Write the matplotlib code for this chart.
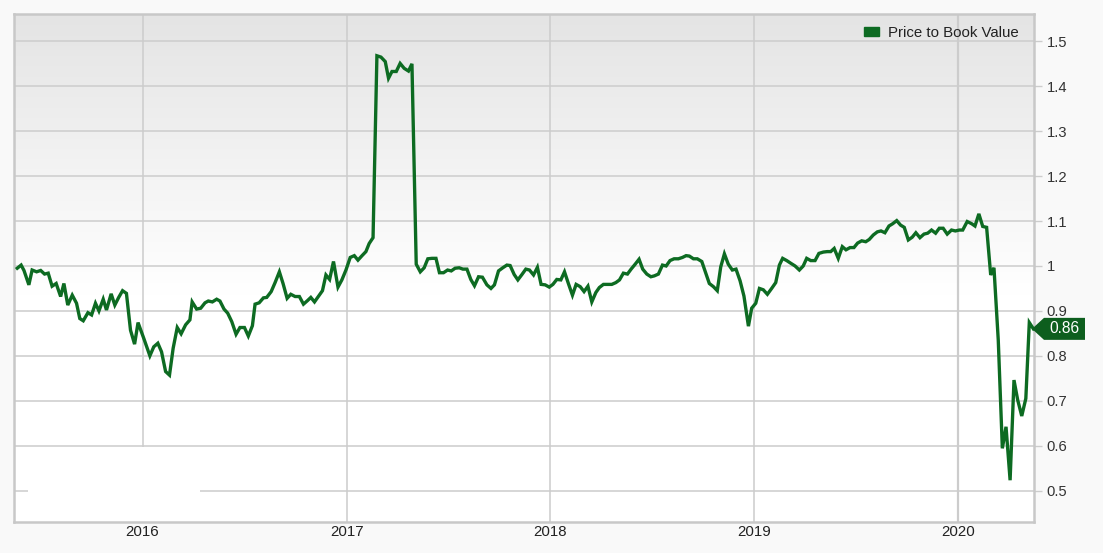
import numpy as np
import pandas as pd
import matplotlib
matplotlib.use("Agg")
import matplotlib.pyplot as plt
from matplotlib.patches import Patch, Polygon, Rectangle
from matplotlib.transforms import IdentityTransform
from matplotlib.colors import LinearSegmentedColormap

plt.rcParams['font.family'] = ['Liberation Sans', 'DejaVu Sans']

# ---- data (decimal year, price-to-book value) ----
year_frac = [
    2015.385, 2015.404, 2015.418, 2015.442, 2015.458, 2015.480, 2015.500, 2015.519,
    2015.537, 2015.556, 2015.576, 2015.598, 2015.614, 2015.633, 2015.655, 2015.676,
    2015.692, 2015.709, 2015.732, 2015.750, 2015.769, 2015.786, 2015.807, 2015.823,
    2015.846, 2015.864, 2015.883, 2015.902, 2015.921, 2015.941, 2015.961, 2015.978,
    2016.006, 2016.036, 2016.055, 2016.075, 2016.093, 2016.113, 2016.132, 2016.150,
    2016.170, 2016.189, 2016.211, 2016.232, 2016.243, 2016.265, 2016.285, 2016.306,
    2016.322, 2016.342, 2016.363, 2016.379, 2016.399, 2016.417, 2016.437, 2016.458,
    2016.477, 2016.499, 2016.518, 2016.538, 2016.551, 2016.571, 2016.592, 2016.608,
    2016.630, 2016.649, 2016.670, 2016.688, 2016.708, 2016.726, 2016.747, 2016.768,
    2016.788, 2016.808, 2016.824, 2016.842, 2016.862, 2016.881, 2016.898, 2016.916,
    2016.935, 2016.957, 2016.976, 2016.996, 2017.017, 2017.037, 2017.055, 2017.075,
    2017.094, 2017.110, 2017.129, 2017.148, 2017.168, 2017.189, 2017.205, 2017.222,
    2017.243, 2017.262, 2017.282, 2017.303, 2017.320, 2017.341, 2017.361, 2017.380,
    2017.398, 2017.418, 2017.438, 2017.455, 2017.475, 2017.495, 2017.513, 2017.532,
    2017.552, 2017.570, 2017.590, 2017.609, 2017.627, 2017.647, 2017.666, 2017.688,
    2017.708, 2017.725, 2017.745, 2017.766, 2017.786, 2017.802, 2017.822, 2017.840,
    2017.860, 2017.879, 2017.897, 2017.917, 2017.936, 2017.954, 2017.974, 2017.994,
    2018.012, 2018.031, 2018.051, 2018.069, 2018.088, 2018.108, 2018.126, 2018.146,
    2018.165, 2018.184, 2018.203, 2018.223, 2018.240, 2018.260, 2018.282, 2018.301,
    2018.321, 2018.339, 2018.358, 2018.378, 2018.396, 2018.416, 2018.435, 2018.453,
    2018.473, 2018.493, 2018.510, 2018.530, 2018.550, 2018.568, 2018.587, 2018.607,
    2018.628, 2018.648, 2018.666, 2018.682, 2018.702, 2018.721, 2018.743, 2018.762,
    2018.780, 2018.800, 2018.819, 2018.836, 2018.854, 2018.873, 2018.893, 2018.911,
    2018.931, 2018.950, 2018.972, 2018.988, 2019.008, 2019.026, 2019.045, 2019.065,
    2019.086, 2019.106, 2019.124, 2019.140, 2019.160, 2019.180, 2019.201, 2019.222,
    2019.241, 2019.258, 2019.278, 2019.299, 2019.318, 2019.340, 2019.359, 2019.376,
    2019.393, 2019.413, 2019.433, 2019.451, 2019.471, 2019.490, 2019.508, 2019.528,
    2019.548, 2019.565, 2019.585, 2019.605, 2019.623, 2019.642, 2019.662, 2019.680,
    2019.700, 2019.719, 2019.737, 2019.757, 2019.776, 2019.794, 2019.814, 2019.834,
    2019.852, 2019.871, 2019.891, 2019.909, 2019.928, 2019.948, 2019.969, 2019.988,
    2020.007, 2020.024, 2020.046, 2020.068, 2020.084, 2020.103, 2020.122, 2020.141,
    2020.161, 2020.177, 2020.198, 2020.218, 2020.236, 2020.256, 2020.275, 2020.293,
    2020.313, 2020.333, 2020.350, 2020.370,
]
pb_value = [
    0.995, 1.002, 0.990, 0.958, 0.991, 0.987, 0.990, 0.982,
    0.984, 0.955, 0.961, 0.932, 0.961, 0.913, 0.935, 0.917,
    0.883, 0.878, 0.896, 0.891, 0.917, 0.900, 0.926, 0.902,
    0.938, 0.913, 0.930, 0.945, 0.939, 0.857, 0.826, 0.874,
    0.839, 0.800, 0.820, 0.828, 0.809, 0.765, 0.757, 0.817,
    0.863, 0.849, 0.869, 0.880, 0.920, 0.904, 0.906, 0.918,
    0.922, 0.920, 0.926, 0.922, 0.904, 0.895, 0.876, 0.848,
    0.863, 0.863, 0.844, 0.867, 0.915, 0.918, 0.929, 0.930,
    0.943, 0.963, 0.987, 0.961, 0.928, 0.937, 0.932, 0.932,
    0.915, 0.923, 0.930, 0.920, 0.933, 0.945, 0.980, 0.970,
    1.010, 0.953, 0.969, 0.991, 1.019, 1.023, 1.013, 1.023,
    1.032, 1.050, 1.063, 1.468, 1.465, 1.455, 1.418, 1.433,
    1.433, 1.451, 1.440, 1.434, 1.450, 1.004, 0.987, 0.996,
    1.016, 1.017, 1.017, 0.985, 0.985, 0.991, 0.989, 0.995,
    0.996, 0.993, 0.993, 0.970, 0.956, 0.976, 0.975, 0.958,
    0.950, 0.958, 0.989, 0.996, 1.002, 1.001, 0.981, 0.969,
    0.981, 0.993, 0.991, 0.980, 0.997, 0.959, 0.958, 0.953,
    0.959, 0.970, 0.969, 0.987, 0.961, 0.935, 0.959, 0.954,
    0.943, 0.955, 0.920, 0.941, 0.952, 0.959, 0.959, 0.959,
    0.963, 0.969, 0.984, 0.982, 0.993, 1.004, 1.015, 0.993,
    0.982, 0.976, 0.978, 0.982, 1.002, 1.000, 1.012, 1.016,
    1.016, 1.019, 1.023, 1.022, 1.016, 1.016, 1.010, 0.985,
    0.961, 0.954, 0.945, 0.998, 1.027, 1.004, 0.991, 0.993,
    0.967, 0.933, 0.866, 0.906, 0.917, 0.950, 0.947, 0.937,
    0.950, 0.963, 1.002, 1.017, 1.012, 1.006, 1.000, 0.991,
    1.000, 1.017, 1.012, 1.012, 1.028, 1.031, 1.032, 1.032,
    1.039, 1.017, 1.043, 1.036, 1.041, 1.041, 1.051, 1.056,
    1.054, 1.059, 1.069, 1.076, 1.078, 1.074, 1.089, 1.094,
    1.101, 1.091, 1.086, 1.058, 1.064, 1.074, 1.063, 1.071,
    1.073, 1.080, 1.073, 1.084, 1.084, 1.071, 1.080, 1.078,
    1.080, 1.080, 1.099, 1.094, 1.089, 1.116, 1.088, 1.086,
    0.980, 0.996, 0.835, 0.594, 0.642, 0.523, 0.746, 0.702,
    0.666, 0.705, 0.874, 0.860,
]
series_name = "Price to Book Value"
year_ticks = [2016, 2017, 2018, 2019, 2020]
y_ticks = [0.5, 0.6, 0.7, 0.8, 0.9, 1.0, 1.1, 1.2, 1.3, 1.4, 1.5]
x_range = (2015.369, 2020.373)
y_range = (0.43, 1.561)


def to_dt(f):
    y = int(np.floor(f))
    a = pd.Timestamp(year=y, month=1, day=1)
    b = pd.Timestamp(year=y + 1, month=1, day=1)
    return a + (b - a) * (f - y)


dates = [to_dt(f) for f in year_frac]

LINE = '#0d6b22'
GRID = '#cccccc'

fig = plt.figure(figsize=(11.03, 5.53), dpi=100)
fig.patch.set_facecolor('#f9f9f9')
ax = fig.add_axes([14 / 1103, 1 - 522 / 553, 1020 / 1103, 508 / 553])

# gradient background
grad = np.linspace(0, 1, 256).reshape(-1, 1)
cmap = LinearSegmentedColormap.from_list('g', [(0, '#ffffff'), (0.45, '#ffffff'), (1, '#e4e4e4')])
ax.imshow(grad, extent=[0, 1, 0, 1], transform=ax.transAxes, origin='lower',
          aspect='auto', cmap=cmap, zorder=0)

ax.set_xlim(to_dt(x_range[0]), to_dt(x_range[1]))
ax.set_ylim(*y_range)

for v in y_ticks:
    ax.axhline(v, color=GRID, lw=1.1, zorder=1)
for yr in year_ticks:
    ax.axvline(pd.Timestamp(year=yr, month=1, day=1), color=GRID,
               lw=1.6 if yr == 2020 else 1.1, zorder=1)

# white patch in lower-left corner of plot area
ax.add_patch(Rectangle((14 / 1020, 0), 172 / 1020, 75 / 508, transform=ax.transAxes,
                       facecolor='white', edgecolor='none', zorder=1.5))

ax.plot(dates, pb_value, color=LINE, lw=2.4, zorder=3, solid_joinstyle='miter')

for s in ax.spines.values():
    s.set_color('#c8c8c8')
    s.set_linewidth(1.8)

ax.yaxis.tick_right()
ax.set_yticks(y_ticks)
ax.set_yticklabels([f'{v:g}' for v in y_ticks])
ax.tick_params(axis='y', direction='out', length=6, width=1, color=GRID,
               labelsize=10.6, labelcolor='#333333', pad=3)
ax.set_xticks([pd.Timestamp(year=yr, month=1, day=1) for yr in year_ticks])
ax.set_xticklabels([str(y) for y in year_ticks])
ax.tick_params(axis='x', length=0, labelsize=10.8, labelcolor='#222222', pad=2.5)

leg = ax.legend(handles=[Patch(facecolor=LINE, edgecolor=LINE, label=series_name)],
                loc='upper right', bbox_to_anchor=(0.998, 1.003), frameon=False,
                fontsize=10.8, handlelength=1.0, handleheight=0.5, handletextpad=0.55)
for t in leg.get_texts():
    t.set_color('#222222')

# last-value tag
fig.canvas.draw()
last = pb_value[-1]
_, yv = ax.transData.transform((0, last))
x_tip = ax.transAxes.transform((1, 0))[0] - 2
poly = Polygon([(x_tip, yv), (x_tip + 12, yv + 11), (x_tip + 53, yv + 11),
                (x_tip + 53, yv - 11), (x_tip + 12, yv - 11)], closed=True,
               transform=IdentityTransform(), facecolor='#0d5e1e', edgecolor='none',
               clip_on=False, zorder=10)
fig.add_artist(poly)
fig.text(x_tip + 32, yv, f'{last:.2f}', transform=IdentityTransform(), color='white',
         fontsize=11.2, ha='center', va='center', zorder=11)

fig.savefig('out.png', dpi=100, facecolor=fig.get_facecolor())
